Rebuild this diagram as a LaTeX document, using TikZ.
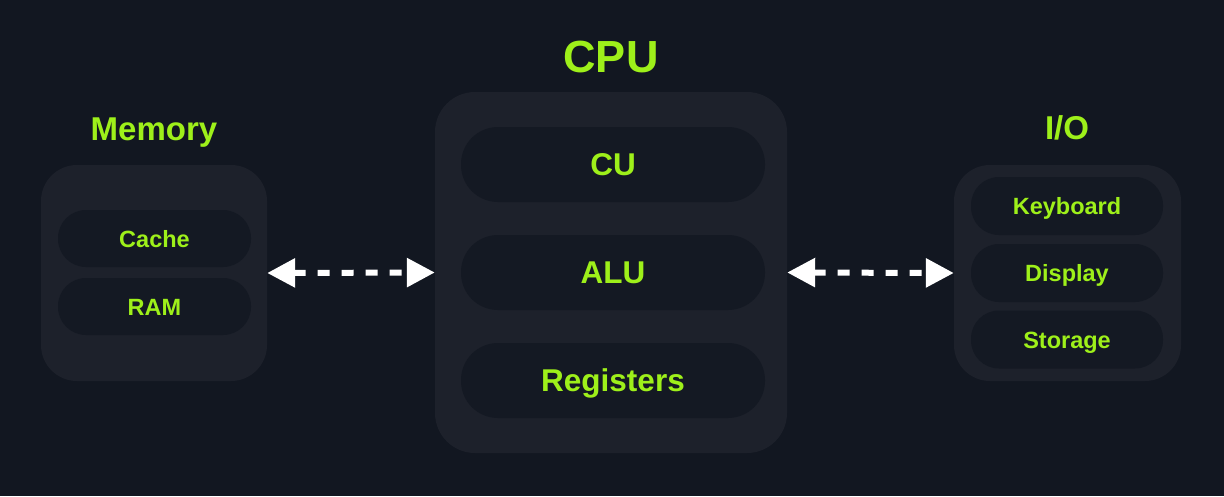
\documentclass[tikz,border=0pt]{standalone}
\usepackage{fontspec}
\setmainfont{Liberation Sans}
\usetikzlibrary{arrows.meta}
\definecolor{bgdark}{HTML}{121721}
\definecolor{boxgray}{HTML}{1D212B}
\definecolor{pillgray}{HTML}{141923}
\definecolor{lime}{HTML}{9EF01A}

\begin{document}
\begin{tikzpicture}[x=1pt, y=-1pt,
    every node/.style = {inner sep=0pt, text=lime, font=\bfseries, text depth=0pt},
    group/.style = {shape=rectangle, rounded corners=36pt, fill=boxgray},
    pill/.style = {shape=rectangle, rounded corners=28pt, fill=pillgray, minimum width=193pt, minimum height=57pt, text height=17pt, font=\bfseries\fontsize{23.5}{28}\selectfont},
    bigpill/.style = {shape=rectangle, rounded corners=37pt, fill=pillgray, minimum width=304pt, minimum height=75pt, text height=22.7pt, font=\bfseries\fontsize{31.5}{38}\selectfont},
    title/.style = {text height=23.7pt, font=\bfseries\fontsize{33}{40}\selectfont},
    link/.style = {white, line width=6pt, dash pattern=on 12pt off 12pt, {Triangle[length=28pt,width=28pt]}-{Triangle[length=28pt,width=28pt]}}]
    \fill[bgdark] (0,0) rectangle (1224,496);
    % memory
    \node[group, minimum width=226pt, minimum height=216pt] (mem) at (154,273) {};
    \node[title] (memtitle) at (154,129) {Memory};
    \node[pill] (cache) at (154.5,238.5) {Cache};
    \node[pill] (ram) at (154.5,306.5) {RAM};
    % cpu
    \node[group, rounded corners=40pt, minimum width=352pt, minimum height=361pt] (cpu) at (611,272.5) {};
    \node[title, text height=32.4pt, font=\bfseries\fontsize{45}{54}\selectfont] (cputitle) at (611,56) {CPU};
    \node[bigpill] (cu) at (613,164.5) {CU};
    \node[bigpill] (alu) at (613,272.5) {ALU};
    \node[bigpill] (regs) at (613,380.5) {Registers};
    % i/o
    \node[group, minimum width=227pt, minimum height=216pt] (io) at (1067.5,273) {};
    \node[title] (iotitle) at (1067,128) {I/O};
    \node[pill, minimum width=192pt, minimum height=58pt] (keyb) at (1067,206) {Keyboard};
    \node[pill, minimum width=192pt, minimum height=58pt] (disp) at (1067,273) {Display};
    \node[pill, minimum width=192pt, minimum height=58pt] (stor) at (1067,339.5) {Storage};
    % links
    \draw[link] (mem.east) -- (cpu.west);
    \draw[link] (cpu.east) -- (io.west);
\end{tikzpicture}
\end{document}
